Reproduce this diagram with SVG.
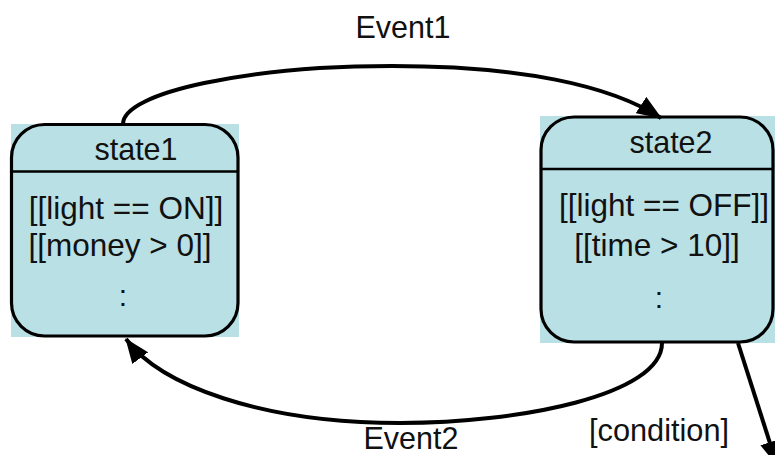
<svg xmlns="http://www.w3.org/2000/svg" width="775" height="455" viewBox="0 0 775 455">
<defs>
<style>
.bg{fill:#b9e0e4;stroke:none}
.box{fill:none;stroke:#000;stroke-width:3.2}
.div{stroke:#000;stroke-width:2.5}
.t{font-family:"Liberation Sans",Arial,sans-serif;fill:#111;text-anchor:middle}
.edge{fill:none;stroke:#000;stroke-width:4}
</style>
<marker id="ah" markerUnits="userSpaceOnUse" markerWidth="26" markerHeight="20" refX="22" refY="9" orient="auto" viewBox="0 0 24 18">
<path d="M0,0 L23,9 L0,18 Z" fill="#000"/>
</marker>
</defs>
<rect width="775" height="455" fill="#fff"/>
<g id="state1">
<rect class="bg" x="11" y="124" width="228" height="213"/>
<rect class="box" x="11.5" y="124.5" width="226.5" height="211.5" rx="33"/>
<line class="div" x1="11.5" y1="171.5" x2="238" y2="171.5"/>
<text class="t" x="136" y="160" font-size="30.5">state1</text>
<text class="t" x="126" y="219" font-size="31.5">[[light == ON]]</text>
<text class="t" x="120" y="256" font-size="31.5">[[money &gt; 0]]</text>
<text class="t" x="123" y="306" font-size="30">:</text>
</g>
<g id="state2">
<rect class="bg" x="540" y="116" width="235" height="227"/>
<rect class="box" x="541" y="117" width="232" height="225" rx="33"/>
<line class="div" x1="541" y1="169" x2="773" y2="169"/>
<text class="t" x="671" y="153" font-size="30.5">state2</text>
<text class="t" x="664" y="216" font-size="31.5">[[light == OFF]]</text>
<text class="t" x="657" y="256" font-size="31.5">[[time &gt; 10]]</text>
<text class="t" x="659" y="308" font-size="30">:</text>
</g>
<g id="connectors">
<path class="edge" d="M123,124 C123,92 250,66 392,66 C520,66 610,85 661,118" marker-end="url(#ah)"/>
<path class="edge" d="M662,343 C662,395 520,423 400,423 C260,423 160,385 126,339" marker-end="url(#ah)"/>
<path class="edge" stroke-width="3.5" d="M738,343 L777,465" marker-end="url(#ah)"/>
<text class="t" x="403" y="38" font-size="30.5">Event1</text>
<text class="t" x="411" y="449" font-size="30.5">Event2</text>
<text class="t" x="659" y="441" font-size="32" textLength="140" lengthAdjust="spacingAndGlyphs">[condition]</text>
</g>
</svg>
